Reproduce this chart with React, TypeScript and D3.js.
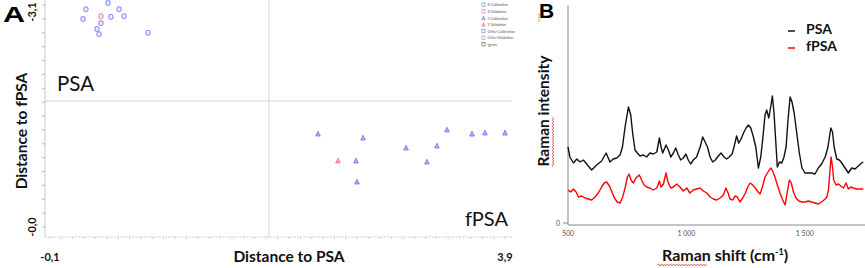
import React from "react";
import * as d3 from "d3";

// ---------- Panel A data (scores) ----------
const psaCalX = [0.216, 0.19, 0.41, 0.436, 0.507, 0.551, 0.348, 0.313, 0.331, 0.762];
const psaCalY = [-3.14, -3.0, -3.23, -3.03, -3.14, -3.04, -2.94, -2.855, -2.78, -2.8];
const psaValX = [0.348];
const psaValY = [-3.04];
const fpsaCalX = [2.256, 2.652, 2.59, 2.599, 3.03, 3.214, 3.302, 3.39, 3.61, 3.724, 3.9];
const fpsaCalY = [-1.341, -1.283, -0.952, -0.649, -1.139, -0.937, -1.168, -1.399, -1.341, -1.355, -1.355];
const fpsaValX = [2.432];
const fpsaValY = [-0.952];
const thresholdX = 1.825;
const thresholdY = -1.817;
const xTickLabelsA = ["-0,1", "3,9"];
const xTickValuesA = [-0.1, 3.9];
const yTickLabelsA = ["-3,1", "-0,0"];
const yTickValuesA = [-3.1, 0];
const legendItemsA = [
  "X Calibration",
  "X Validation",
  "Y Calibration",
  "Y Validation",
  "Other Calibration",
  "Other Validation",
  "Ignore",
];

// ---------- Panel B data (spectra) ----------
const psaShift = [500,508,523,537,551,565,579,600,621,642,661,677,691,706,720,730,741,755,765,773,783,793,804,818,832,846,860,875,886,893,900,914,924,934,945,955,966,976,987,998,1008,1018,1029,1043,1058,1069,1079,1089,1100,1111,1122,1135,1146,1159,1170,1181,1193,1201,1212,1221,1231,1241,1252,1262,1272,1283,1293,1304,1314,1322,1332,1339,1348,1356,1363,1370,1377,1384,1393,1403,1412,1421,1429,1438,1446,1455,1466,1477,1488,1501,1515,1529,1543,1557,1571,1586,1597,1604,1610,1617,1624,1635,1646,1656,1670,1684,1698,1712,1726,1740,1747];
const psaIntensity = [76,66,60,64,61,63,59,53,58,62,70,61,64,65,68,76,96,116,108,90,73,70,67,68,66,70,69,71,85,76,70,78,73,66,70,75,68,63,65,69,63,59,63,66,76,86,81,76,66,61,63,67,70,66,64,66,69,76,87,80,84,90,95,98,95,86,76,55,66,83,108,113,105,116,127,110,83,56,61,60,66,76,103,126,121,110,90,70,55,50,50,50,49,55,59,66,75,86,95,91,76,64,63,60,55,50,55,54,57,60,61];
const fpsaShift = [500,511,523,534,544,558,572,586,600,614,628,642,653,663,675,684,696,708,720,731,741,751,758,766,776,787,801,811,821,832,846,860,875,886,893,903,914,922,934,945,959,973,987,1001,1015,1029,1043,1058,1072,1086,1100,1114,1128,1142,1156,1167,1176,1184,1196,1205,1215,1226,1238,1249,1259,1269,1280,1291,1303,1311,1321,1332,1342,1350,1357,1364,1374,1384,1395,1407,1417,1426,1435,1443,1452,1463,1475,1487,1501,1515,1529,1543,1557,1571,1586,1593,1600,1607,1611,1617,1622,1632,1642,1652,1663,1674,1684,1694,1705,1719,1733,1747];
const fpsaIntensity = [33,31,34,31,26,27,25,24,23,26,30,36,40,41,37,32,25,21,20,26,35,46,49,43,40,45,48,43,38,36,35,33,35,42,36,39,50,41,35,36,39,36,32,35,30,33,34,35,32,30,26,24,23,25,28,35,30,24,23,27,26,21,25,30,36,40,38,35,31,29,36,46,50,53,55,52,46,38,30,23,18,31,43,40,31,25,22,21,21,22,21,20,19,21,24,26,33,55,66,56,43,38,39,37,35,40,34,36,35,34,34,34];
const xTickValuesB = [500, 1000, 1500];
const xTickLabelsB = ["500", "1 000", "1 500"];
const seriesNamesB = ["PSA", "fPSA"];
const seriesColorsB = ["#111111", "#ff0000"];

const FONT = "Lato, 'Open Sans', Arial, sans-serif";

function squiggle(x0: number, x1: number, y: number) {
  let d = `M${x0},${y}`;
  let up = true;
  for (let x = x0 + 1.5; x <= x1; x += 1.5) {
    d += ` L${x},${y + (up ? -1 : 1)}`;
    up = !up;
  }
  return d;
}
function squiggleV(x: number, y0: number, y1: number) {
  let d = `M${x},${y0}`;
  let up = true;
  for (let y = y0 - 1.5; y >= y1; y -= 1.5) {
    d += ` L${x + (up ? -1 : 1)},${y}`;
    up = !up;
  }
  return d;
}

function PanelA() {
  const x = d3.scaleLinear().domain([-0.1, 3.9]).range([50, 505]);
  const y = d3.scaleLinear().domain([0, -3.1]).range([227, 12]);
  const axisLeft = 45;
  const axisBottom = 237;
  const axisRight = 512;
  const blue = "#6f6ff5";
  const red = "#e86a8a";
  const yTicks = d3.range(0, -3.35, -0.2);
  const xTicks = d3.range(-0.1, 3.95, 0.1);

  const square = (cx: number, cy: number, c: string, k: string) => (
    <rect key={k} x={cx - 2} y={cy - 2.3} width={4} height={4.6} rx={1.2}
      fill="#dcdcff" fillOpacity={0.5} stroke={c} strokeWidth={0.9} />
  );
  const tri = (cx: number, cy: number, c: string, k: string) => (
    <path key={k} d={`M${cx},${cy - 2.8} L${cx + 2.3},${cy + 2} L${cx - 2.3},${cy + 2} Z`}
      fill={c} fillOpacity={0.55} stroke={c} strokeWidth={0.8} />
  );

  return (
    <g>
      <line x1={axisLeft} x2={axisRight} y1={y(thresholdY)} y2={y(thresholdY)} stroke="#d4d4d4" strokeWidth={1} />
      <line x1={x(thresholdX)} x2={x(thresholdX)} y1={0} y2={axisBottom} stroke="#d4d4d4" strokeWidth={1} />
      <line x1={axisLeft} x2={axisLeft} y1={0} y2={axisBottom} stroke="#c8c8c8" strokeWidth={1} />
      {yTicks.map((t, i) => (
        <line key={"yt" + i} x1={axisLeft - 3} x2={axisLeft} y1={y(t)} y2={y(t)} stroke="#aaaaaa" strokeWidth={0.8} />
      ))}
      <line x1={axisLeft} x2={axisRight} y1={axisBottom} y2={axisBottom} stroke="#cfcfcf" strokeWidth={1} strokeDasharray="2,1" />
      {xTicks.map((t, i) => (
        <line key={"xt" + i} x1={x(t)} x2={x(t)} y1={axisBottom} y2={axisBottom + 2} stroke="#bbbbbb" strokeWidth={0.7} />
      ))}
      {psaCalX.map((v, i) => square(x(v), y(psaCalY[i]), blue, "pc" + i))}
      {psaValX.map((v, i) => square(x(v), y(psaValY[i]), red, "pv" + i))}
      {fpsaCalX.map((v, i) => tri(x(v), y(fpsaCalY[i]), blue, "fc" + i))}
      {fpsaValX.map((v, i) => tri(x(v), y(fpsaValY[i]), red, "fv" + i))}
      {xTickValuesA.map((v, i) => (
        <text key={"xl" + i} x={x(v)} y={261} textAnchor="middle" fontFamily={FONT} fontWeight="bold" fontSize={11} fill="#111">{xTickLabelsA[i]}</text>
      ))}
      {yTickValuesA.map((v, i) => (
        <text key={"yl" + i} transform={`translate(36,${y(v)}) rotate(-90)`} textAnchor="middle" fontFamily={FONT} fontWeight="bold" fontSize={11} fill="#111">{yTickLabelsA[i]}</text>
      ))}
      <text x={289} y={262} textAnchor="middle" fontFamily={FONT} fontWeight="bold" fontSize={15.5} fill="#111">Distance to PSA</text>
      <text transform="translate(27,131) rotate(-90)" textAnchor="middle" fontFamily={FONT} fontWeight="bold" fontSize={15.5} fill="#111">Distance to fPSA</text>
      <text x={57} y={91} fontFamily={FONT} fontSize={20.5} fill="#111">PSA</text>
      <text x={508} y={226} textAnchor="end" fontFamily={FONT} fontSize={20} fill="#111">fPSA</text>
      {legendItemsA.map((name, i) => {
        const ly = 5 + i * 6.6;
        const c = i % 2 === 0 ? blue : red;
        return (
          <g key={"lg" + i}>
            {i < 2 || i >= 4 ? (
              <rect x={482} y={ly - 2} width={3} height={3.4} fill="none" stroke={i === 6 ? "#555" : c} strokeWidth={0.6} />
            ) : (
              <path d={`M${483.5},${ly - 2.2} L${485.2},${ly + 1.4} L${481.8},${ly + 1.4} Z`} fill={c} fillOpacity={0.5} stroke={c} strokeWidth={0.5} />
            )}
            <text x={487.5} y={ly + 1.4} fontFamily={FONT} fontSize={3.6} fill="#555">{name}</text>
          </g>
        );
      })}
      <line x1={539} x2={539} y1={13} y2={22} stroke="#999" strokeWidth={0.8} />
      <text x={3} y={22} fontFamily="Arial, 'Liberation Sans', sans-serif" fontWeight="bold" fontSize={22} textLength={22} lengthAdjust="spacingAndGlyphs" fill="#000">A</text>
    </g>
  );
}

function PanelB() {
  const x = d3.scaleLinear().domain([500, 1750]).range([568, 864]);
  const y = d3.scaleLinear().domain([0, 220]).range([223, 3]);
  const line = d3.line<[number, number]>().x((d) => x(d[0])).y((d) => y(d[1])).curve(d3.curveLinear);
  const psa = psaShift.map((s, i) => [s, psaIntensity[i]] as [number, number]);
  const fpsa = fpsaShift.map((s, i) => [s, fpsaIntensity[i]] as [number, number]);
  const axisY = 225;
  return (
    <g>
      <line x1={568} x2={568} y1={5} y2={axisY} stroke="#8a8a8a" strokeWidth={1} />
      <line x1={568} x2={865} y1={axisY} y2={axisY} stroke="#8a8a8a" strokeWidth={1} />
      <line x1={563} x2={568} y1={y(0)} y2={y(0)} stroke="#8a8a8a" strokeWidth={1} />
      <text x={558} y={y(0) + 2.5} textAnchor="middle" fontFamily={FONT} fontSize={7} fill="#555">0</text>
      {xTickValuesB.map((v, i) => (
        <text key={"bt" + i} x={x(v)} y={236} textAnchor="middle" fontFamily={FONT} fontSize={7} fill="#555">{xTickLabelsB[i]}</text>
      ))}
      <path d={line(psa) || ""} fill="none" stroke={seriesColorsB[0]} strokeWidth={1.4} strokeLinejoin="round" />
      <path d={line(fpsa) || ""} fill="none" stroke={seriesColorsB[1]} strokeWidth={1.4} strokeLinejoin="round" />
      {seriesNamesB.map((n, i) => (
        <g key={"bl" + i}>
          <line x1={788} x2={795} y1={31 + i * 17} y2={31 + i * 17} stroke={seriesColorsB[i]} strokeWidth={1.5} />
          <text x={806} y={34 + i * 17} fontFamily={FONT} fontWeight="bold" fontSize={14} fill="#111">{n}</text>
        </g>
      ))}
      <text x={725} y={261} textAnchor="middle" fontFamily={FONT} fontWeight="bold" fontSize={16} fill="#111">
        Raman shift (cm<tspan dy={-6} fontSize={9}>-1</tspan><tspan dy={6}>)</tspan>
      </text>
      <path d={squiggle(657, 707, 265)} fill="none" stroke="#e03030" strokeWidth={0.7} />
      <text transform="translate(549,111) rotate(-90)" textAnchor="middle" fontFamily={FONT} fontWeight="bold" fontSize={15.5} fill="#111">Raman intensity</text>
      <path d={squiggleV(553, 167, 117)} fill="none" stroke="#e03030" strokeWidth={0.7} />
      <text x={539} y={18} fontFamily="Arial, 'Liberation Sans', sans-serif" fontWeight="bold" fontSize={21} fill="#000">B</text>
    </g>
  );
}

export default function App() {
  return (
    <svg width={865} height={268} viewBox="0 0 865 268"
      style={{ position: "fixed", left: 0, top: 0, background: "#fff", display: "block" }}>
      <rect x={0} y={0} width={865} height={268} fill="#fff" />
      <PanelA />
      <PanelB />
    </svg>
  );
}
